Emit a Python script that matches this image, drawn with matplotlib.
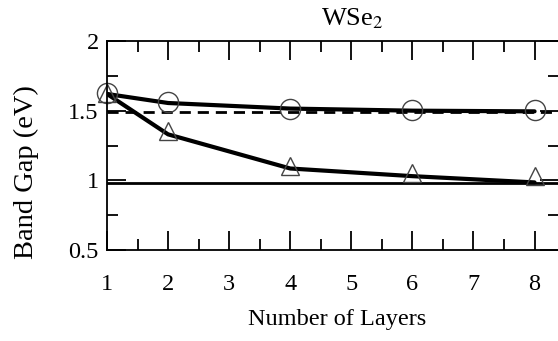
import matplotlib
matplotlib.use("Agg")
import matplotlib.pyplot as plt
from matplotlib.ticker import MultipleLocator

layers = [1, 2, 4, 6, 8]
circle_pts = [1.625, 1.56, 1.515, 1.505, 1.505]
triangle_pts = [1.625, 1.355, 1.10, 1.055, 1.03]
circle_fit = [1.62, 1.555, 1.515, 1.50, 1.495]
triangle_fit = [1.62, 1.33, 1.085, 1.03, 0.985]
dashed_level = 1.49
solid_level = 0.978

plt.rcParams['font.family'] = ['Liberation Serif', 'DejaVu Serif']
plt.rcParams['mathtext.fontset'] = 'stix'

fig = plt.figure(figsize=(5.58, 3.41), dpi=100)
ax = fig.add_axes([107/558, 91/341, 452/558, 209/341])

ax.axhline(dashed_level, color='black', lw=2, ls=(0, (4, 2.5)))
ax.axhline(solid_level, color='black', lw=2)
ax.plot(layers, circle_fit, color='black', lw=3, solid_capstyle='round')
ax.plot(layers, triangle_fit, color='black', lw=3, solid_capstyle='round')
ax.plot(layers, circle_pts, ls='none', marker='o', ms=14.5, mfc='none', mec='#444444', mew=1.0, clip_on=False)
ax.plot(layers, triangle_pts, ls='none', marker='^', ms=13, mfc='none', mec='#444444', mew=1.0, clip_on=False)

ax.set_xlim(1, 8.4)
ax.set_ylim(0.5, 2)
ax.xaxis.set_major_locator(MultipleLocator(1))
ax.xaxis.set_minor_locator(MultipleLocator(0.5))
ax.yaxis.set_minor_locator(MultipleLocator(0.25))
ax.set_yticks([0.5, 1, 1.5, 2])
ax.set_yticklabels(['0.5', '1', '1.5', '2'])
ax.tick_params(which='major', direction='in', length=14, width=1.3, top=True, right=True, labelsize=17.5)
ax.tick_params(which='minor', direction='in', length=8, width=1.3, top=True, right=True)
ax.tick_params(axis='x', which='major', pad=17)
ax.tick_params(axis='y', which='major', pad=6)
for s in ax.spines.values():
    s.set_linewidth(1.3)

ax.set_xlabel('Number of Layers', fontsize=17.5)
ax.set_ylabel('Band Gap (eV)', fontsize=20.5)
ax.xaxis.set_label_coords((337 - 107) / 452, -(309 - 250) / 209)
ax.yaxis.set_label_coords(-(107 - 39) / 452, (341 - 172 - 91) / 209)
fig.text(352/558, 1 - 19/341, 'WSe$_2$', ha='center', va='center', fontsize=19)

fig.savefig('out.png', dpi=100)
